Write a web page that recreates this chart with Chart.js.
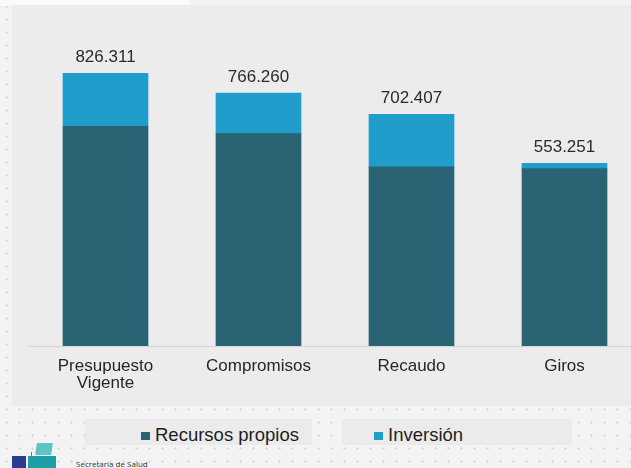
<!DOCTYPE html>
<html>
<head>
<meta charset="utf-8">
<script src="https://cdn.jsdelivr.net/npm/chart.js@4/dist/chart.umd.min.js"></script>
<style>
  html, body { margin:0; padding:0; }
  body {
    width:631px; height:468px; overflow:hidden; position:relative;
    background-color:#f3f3f3;
    background-image: radial-gradient(#dadada 1px, transparent 1.3px);
    background-size: 13px 13px;
    font-family: "Liberation Sans", Arial, sans-serif;
  }
  #topstrip { position:absolute; left:0; top:0; width:190px; height:6px; background:#fafafa; }
  #panel { position:absolute; left:12px; top:5px; width:640px; height:401px; background:#ececec; }
  #wrap { position:absolute; left:0; top:0; width:660px; height:400px; }
  #legend { position:absolute; left:0; top:419px; width:631px; height:27px; }
  .lgbox { position:absolute; top:0; height:26px; background:#ebebeb; }
  .lgitem { position:absolute; top:6px; height:20px; font-size:18.5px; color:#1e1e1e; white-space:nowrap; line-height:20px; }
  .lgsw { display:inline-block; width:9px; height:8px; margin-right:5px; vertical-align:1px; }
  #logo .a { position:absolute; left:12px; top:456px; width:14px; height:14px; background:#2c3c8e; }
  #logo .b { position:absolute; left:28px; top:456px; width:28px; height:14px; background:#1c9fa6; }
  #logo .c { position:absolute; left:36px; top:443px; width:16px; height:12px; background:#5cc4c2; transform:skewX(-8deg); border-radius:1px; }
  #logo .d { position:absolute; left:31px; top:452px; width:1px; height:4px; background:#1c9fa6; }
  #logo .t { position:absolute; left:76px; top:458px; font-family:"Open Sans", "Liberation Sans", sans-serif; font-size:8px; color:#333; }
</style>
</head>
<body>
<div id="topstrip"></div>
<div id="panel"></div>
<div id="wrap"><canvas id="c" width="660" height="400"></canvas></div>
<div id="legend"></div>
<div id="logo"><div class="c"></div><div class="d"></div><div class="a"></div><div class="b"></div><div class="t">Secretaría de Salud</div></div>
<script>
// ---- data ----
const categories = [["Presupuesto", "Vigente"], "Compromisos", "Recaudo", "Giros"];
const seriesNames = ["Recursos propios", "Inversión"];
const recursosPropios = [666.0, 643.8, 542.7, 537.3];
const inversion = [160.311, 122.460, 159.707, 15.951];
const seriesColors = ["#2a6373", "#209dcb"];

const totalsPlugin = {
  id: 'totals',
  afterDatasetsDraw(chart) {
    const ctx = chart.ctx;
    const top = chart.getDatasetMeta(chart.data.datasets.length - 1);
    ctx.save();
    ctx.font = '17px "Liberation Sans", Arial, sans-serif';
    ctx.fillStyle = '#2a2a2a';
    ctx.textAlign = 'center';
    ctx.textBaseline = 'middle';
    top.data.forEach((bar, i) => {
      let total = 0;
      chart.data.datasets.forEach(ds => total += ds.data[i]);
      ctx.fillText(total.toFixed(3), bar.x, bar.y - 16);
    });
    ctx.restore();
  }
};

const chart = new Chart(document.getElementById('c'), {
  type: 'bar',
  data: {
    labels: categories,
    datasets: [
      { label: seriesNames[0], data: recursosPropios, backgroundColor: seriesColors[0], barThickness: 85 },
      { label: seriesNames[1], data: inversion, backgroundColor: seriesColors[1], barThickness: 85 }
    ]
  },
  options: {
    responsive: false,
    animation: false,
    layout: { padding: { left: 29, right: 19, top: 16, bottom: 0 } },
    plugins: { legend: { display: false }, tooltip: { enabled: false } },
    scales: {
      x: {
        stacked: true,
        grid: { display: false, drawTicks: false },
        border: { display: true, color: '#d4d4d4', width: 1 },
        ticks: { color: '#262626', padding: 11, font: { family: '"Liberation Sans", Arial, sans-serif', size: 17, lineHeight: 1.05 } },
        afterFit(scale) { scale.height = 54; }
      },
      y: {
        stacked: true, display: false, min: 0, max: 1000
      }
    }
  },
  plugins: [totalsPlugin]
});

// legend (HTML) built from the series arrays
const lg = document.getElementById('legend');
const boxes = [[85, 227], [342, 230]];
const itemX = [141, 374];
seriesNames.forEach((name, i) => {
  const b = document.createElement('div');
  b.className = 'lgbox'; b.style.left = boxes[i][0] + 'px'; b.style.width = boxes[i][1] + 'px';
  lg.appendChild(b);
  const it = document.createElement('div');
  it.className = 'lgitem'; it.style.left = itemX[i] + 'px';
  const sw = document.createElement('span');
  sw.className = 'lgsw'; sw.style.background = seriesColors[i];
  it.appendChild(sw);
  it.appendChild(document.createTextNode(name));
  lg.appendChild(it);
});
</script>
</body>
</html>
